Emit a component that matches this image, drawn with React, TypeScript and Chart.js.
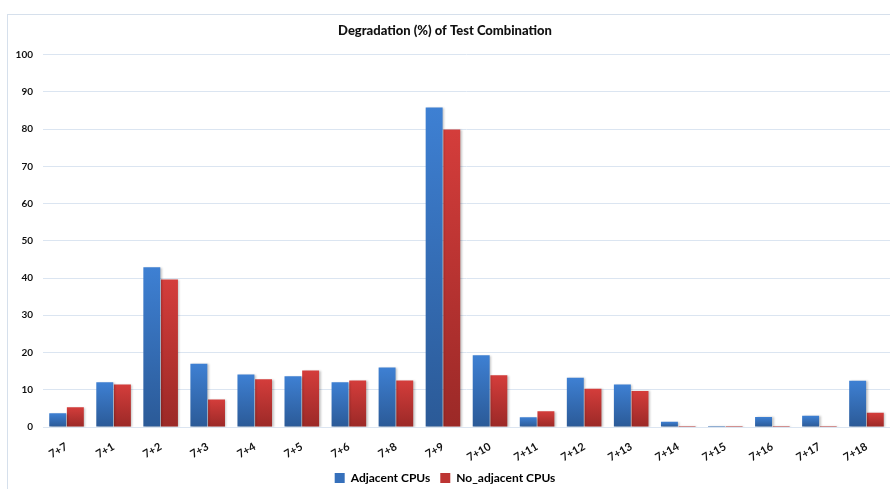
import React, { useEffect, useRef } from "react";
import { Chart, registerables } from "chart.js";

Chart.register(...registerables);

const categories = [
  "7+7", "7+1", "7+2", "7+3", "7+4", "7+5", "7+6", "7+8", "7+9",
  "7+10", "7+11", "7+12", "7+13", "7+14", "7+15", "7+16", "7+17", "7+18",
];
const adjacentCpus = [3.7, 12.0, 42.9, 17.0, 14.1, 13.6, 12.0, 16.0, 85.8, 19.3, 2.6, 13.2, 11.4, 1.4, 0.3, 2.7, 3.0, 12.4];
const noAdjacentCpus = [5.3, 11.4, 39.6, 7.4, 12.8, 15.2, 12.5, 12.5, 79.9, 13.9, 4.2, 10.3, 9.7, 0.3, 0.3, 0.3, 0.3, 3.8];
const yTicks = [0, 10, 20, 30, 40, 50, 60, 70, 80, 90, 100];

const FONT = "Lato, 'Liberation Sans', sans-serif";
const GRID = "#dbe5f1";

// per-bar vertical gradient: light at the top, dark at the baseline
function barGradient(top: string, bottom: string) {
  return (ctx: any) => {
    const chart = ctx.chart;
    const y = chart.scales?.y;
    if (!y || !chart.chartArea || ctx.type !== "data") return top;
    const v = ctx.raw as number;
    const y0 = y.getPixelForValue(0);
    const y1 = y.getPixelForValue(v);
    if (!isFinite(y0) || !isFinite(y1) || y0 === y1) return top;
    const g = chart.ctx.createLinearGradient(0, y1, 0, y0);
    g.addColorStop(0, top);
    g.addColorStop(1, bottom);
    return g;
  };
}

const barShadow = {
  id: "barShadow",
  beforeDatasetsDraw(chart: any) {
    const c = chart.ctx;
    c.save();
    c.shadowColor = "rgba(0,0,0,0.22)";
    c.shadowOffsetX = 1.5;
    c.shadowOffsetY = 0.5;
    c.shadowBlur = 2;
  },
  afterDatasetsDraw(chart: any) {
    chart.ctx.restore();
  },
};

export default function App() {
  const ref = useRef<HTMLCanvasElement>(null);

  useEffect(() => {
    if (!ref.current) return;
    const chart = new Chart(ref.current, {
      type: "bar",
      data: {
        labels: categories,
        datasets: [
          {
            label: "Adjacent CPUs",
            data: adjacentCpus,
            backgroundColor: barGradient("#3e80d3", "#2b5a97"),
            borderWidth: 0,
            barPercentage: 0.96,
            categoryPercentage: 0.75,
          },
          {
            label: "No_adjacent CPUs",
            data: noAdjacentCpus,
            backgroundColor: barGradient("#d43d3b", "#9b2927"),
            borderWidth: 0,
            barPercentage: 0.96,
            categoryPercentage: 0.75,
          },
        ],
      },
      plugins: [barShadow],
      options: {
        responsive: false,
        animation: false,
        layout: { padding: { left: 0, right: 0, top: 0, bottom: 0 } },
        plugins: {
          tooltip: { enabled: false },
          title: {
            display: true,
            text: "Degradation (%) of Test Combination",
            color: "#111",
            font: { family: FONT, size: 13, weight: "900", lineHeight: 1.2 },
            padding: { top: 23, bottom: 16 },
          },
          legend: {
            position: "bottom",
            labels: {
              boxWidth: 10,
              boxHeight: 10,
              padding: 10,
              color: "#111",
              font: { family: FONT, size: 12, weight: "bold" },
              generateLabels: () => [
                { text: "Adjacent CPUs", fillStyle: "#3670bb", strokeStyle: "#3670bb", lineWidth: 0, datasetIndex: 0 },
                { text: "No_adjacent CPUs", fillStyle: "#bd3533", strokeStyle: "#bd3533", lineWidth: 0, datasetIndex: 1 },
              ],
            },
          },
        },
        scales: {
          x: {
            grid: { display: false },
            border: { display: true, color: GRID, width: 1 },
            ticks: {
              color: "#111",
              font: { family: FONT, size: 11, weight: "bold" },
              minRotation: 30,
              maxRotation: 30,
              padding: 5,
              autoSkip: false,
            },
            afterFit: (s: any) => {
              s.height = 35;
            },
          },
          y: {
            min: 0,
            max: 100,
            afterBuildTicks: (s: any) => {
              s.ticks = yTicks.map((v) => ({ value: v }));
            },
            grid: { color: GRID, lineWidth: 1, drawTicks: false },
            border: { display: false },
            ticks: {
              color: "#111",
              font: { family: FONT, size: 10, weight: "bold" },
              padding: 10,
            },
            afterFit: (s: any) => {
              s.width = 43;
            },
          },
        },
      },
    });
    return () => chart.destroy();
  }, []);

  return (
    <div style={{ position: "fixed", left: 0, top: 0, width: 890, height: 489, overflow: "hidden", background: "#fff" }}>
      <div
        style={{
          position: "absolute",
          left: 7,
          top: 14,
          width: 900,
          height: 500,
          borderLeft: "1px solid #d6e0ec",
          borderTop: "1px solid #d6e0ec",
        }}
      />
      <canvas ref={ref} width={890} height={494} style={{ position: "absolute", left: 0, top: 0, width: 890, height: 494 }} />
    </div>
  );
}
